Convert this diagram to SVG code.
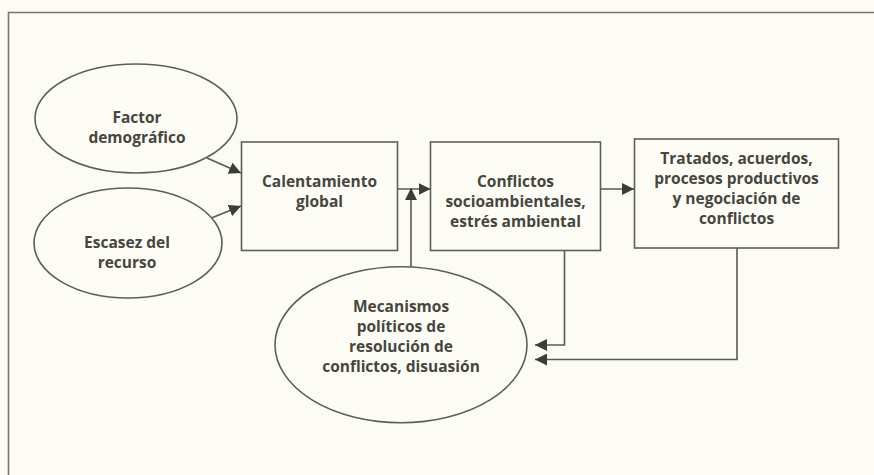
<svg xmlns="http://www.w3.org/2000/svg" width="874" height="475" viewBox="0 0 874 475">
<defs>
<marker id="ah" markerUnits="userSpaceOnUse" markerWidth="13" markerHeight="12" refX="12" refY="6" orient="auto">
<path d="M0,0 L12,6 L0,12 Z" fill="#3c3c38"/>
</marker>
<style>
.n{fill:#fdfdf6;stroke:#5e5e58;stroke-width:1.6}
.t{font-family:"Open Sans","Liberation Sans",sans-serif;font-weight:700;font-size:15.5px;fill:#46463f;text-anchor:middle}
.c{fill:none;stroke:#5a5a54;stroke-width:1.6;marker-end:url(#ah)}
</style>
</defs>
<rect x="0" y="0" width="874" height="475" fill="#fcfcf4"/>
<path d="M8.5,475 V12.5 H874" fill="none" stroke="#777770" stroke-width="1.6"/>
<g id="connectors">
<path class="c" d="M207,158 L241,173"/>
<path class="c" d="M209,219 L241,206"/>
<path class="c" d="M397.5,189 L430.5,189"/>
<path class="c" d="M411,267 L411,188"/>
<path class="c" d="M601,189 L634,189"/>
<path class="c" d="M564.5,250.5 L564.5,345 L535,345"/>
<path class="c" d="M737,248 L737,359.5 L535,359.5"/>
</g>
<g id="factor">
<ellipse class="n" cx="136" cy="118.5" rx="101" ry="54.5"/>
<text class="t" x="137" y="123">Factor</text>
<text class="t" x="137" y="143">demográfico</text>
</g>
<g id="escasez">
<ellipse class="n" cx="128" cy="243" rx="94" ry="55"/>
<text class="t" x="127" y="248">Escasez del</text>
<text class="t" x="127" y="268">recurso</text>
</g>
<g id="calentamiento">
<rect class="n" x="241.5" y="142" width="156" height="108.5"/>
<text class="t" x="319.5" y="187">Calentamiento</text>
<text class="t" x="319.5" y="207">global</text>
</g>
<g id="conflictos">
<rect class="n" x="430.5" y="142" width="170" height="108.5"/>
<text class="t" x="515.5" y="187">Conflictos</text>
<text class="t" x="515.5" y="207">socioambientales,</text>
<text class="t" x="515.5" y="227">estrés ambiental</text>
</g>
<g id="tratados">
<rect class="n" x="634.5" y="139" width="204" height="109"/>
<text class="t" x="736.5" y="164">Tratados, acuerdos,</text>
<text class="t" x="736.5" y="184">procesos productivos</text>
<text class="t" x="736.5" y="204">y negociación de</text>
<text class="t" x="736.5" y="224">conflictos</text>
</g>
<g id="mecanismos">
<ellipse class="n" cx="401" cy="344.7" rx="126" ry="78"/>
<text class="t" x="401" y="312">Mecanismos</text>
<text class="t" x="401" y="332">políticos de</text>
<text class="t" x="401" y="352">resolución de</text>
<text class="t" x="401" y="372">conflictos, disuasión</text>
</g>
</svg>
